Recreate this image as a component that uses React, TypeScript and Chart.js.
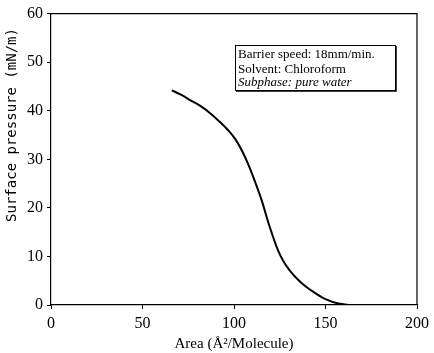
import React, { useEffect, useRef } from "react";
import { Chart, registerables } from "chart.js";

Chart.register(...registerables);

const areaValues = [66, 71, 76.5, 82, 87.3, 92, 97, 101, 104.3, 107.5, 110.6, 115, 119.5, 124, 127, 130.3, 135, 139.2, 145, 150, 157, 164];
const pressureValues = [44.2, 43.3, 42.1, 40.9, 39.4, 37.8, 35.9, 34.0, 31.8, 29.2, 26.3, 21.7, 16.1, 11.3, 9.0, 7.2, 5.2, 3.8, 2.3, 1.2, 0.3, 0];
const xTicks = [0, 50, 100, 150, 200];
const yTicks = [0, 10, 20, 30, 40, 50, 60];
const legendLines = ["Barrier speed: 18mm/min.", "Solvent: Chloroform", "Subphase: pure water"];
const xTitle = "Area (Å²/Molecule)";
const yTitle = "Surface pressure (mN/m)";

const framePlugin = {
  id: "frameAndNotes",
  afterDraw(chart: any) {
    const { ctx, chartArea } = chart;
    const { left, right, top, bottom } = chartArea;
    ctx.save();
    ctx.strokeStyle = "#000";
    ctx.lineWidth = 1.2;
    ctx.beginPath();
    ctx.moveTo(left, top);
    ctx.lineTo(right, top);
    ctx.lineTo(right, bottom);
    ctx.stroke();

    // y title
    ctx.save();
    ctx.translate(12, 125);
    ctx.rotate(-Math.PI / 2);
    ctx.fillStyle = "#000";
    ctx.font = "14px 'DejaVu Sans Mono'";
    ctx.textAlign = "center";
    ctx.textBaseline = "middle";
    ctx.fillText(yTitle, 0, 0);
    ctx.restore();

    // note box
    const bx = 235, by = 45, bw = 160, bh = 45;
    ctx.lineWidth = 1;
    ctx.strokeRect(bx + 0.5, by + 0.5, bw, bh);
    ctx.lineWidth = 1.5;
    ctx.beginPath();
    ctx.moveTo(bx + bw + 1, by + 1);
    ctx.lineTo(bx + bw + 1, by + bh + 1);
    ctx.lineTo(bx + 1, by + bh + 1);
    ctx.stroke();
    ctx.fillStyle = "#000";
    ctx.textAlign = "left";
    ctx.textBaseline = "middle";
    const ys = [55, 70, 83];
    legendLines.forEach((t, i) => {
      ctx.font = (i === 2 ? "italic " : "") + "13px 'Liberation Serif'";
      ctx.fillText(t, 238, ys[i]);
    });
    ctx.restore();
  },
};

export default function App() {
  const ref = useRef<HTMLCanvasElement | null>(null);
  useEffect(() => {
    if (!ref.current) return;
    const chart = new Chart(ref.current, {
      type: "scatter",
      data: {
        datasets: [
          {
            data: areaValues.map((x, i) => ({ x, y: pressureValues[i] })),
            showLine: true,
            borderColor: "#000",
            borderWidth: 2,
            pointRadius: 0,
            cubicInterpolationMode: "monotone",
          },
        ],
      },
      options: {
        animation: false,
        responsive: true,
        maintainAspectRatio: false,
        layout: { padding: { top: 13, right: 11, left: 0, bottom: 0 } },
        plugins: { legend: { display: false }, tooltip: { enabled: false } },
        scales: {
          x: {
            type: "linear",
            min: 0,
            max: 200,
            afterBuildTicks: (s: any) => {
              s.ticks = xTicks.map((v) => ({ value: v }));
            },
            afterFit: (s: any) => {
              s.height = 48;
            },
            grid: { display: true, drawOnChartArea: false, tickLength: 4, color: "#000" },
            border: { color: "#000", width: 1.2 },
            ticks: { color: "#000", font: { family: "'Liberation Serif'", size: 16 }, padding: 5, maxRotation: 0 },
            title: { display: true, text: xTitle, color: "#000", font: { family: "'Liberation Serif'", size: 15 }, padding: { top: 0, bottom: 0 } },
          },
          y: {
            type: "linear",
            min: 0,
            max: 60,
            afterBuildTicks: (s: any) => {
              s.ticks = yTicks.map((v) => ({ value: v }));
            },
            afterFit: (s: any) => {
              s.width = 51;
            },
            grid: { display: true, drawOnChartArea: false, tickLength: 4, color: "#000" },
            border: { color: "#000", width: 1.2 },
            ticks: { color: "#000", font: { family: "'Liberation Serif'", size: 16 }, padding: 4 },
          },
        },
      },
      plugins: [framePlugin],
    } as any);
    return () => chart.destroy();
  }, []);
  return (
    <div style={{ position: "fixed", left: 0, top: 0, width: 434, height: 353, background: "#fff" }}>
      <canvas ref={ref} />
    </div>
  );
}
